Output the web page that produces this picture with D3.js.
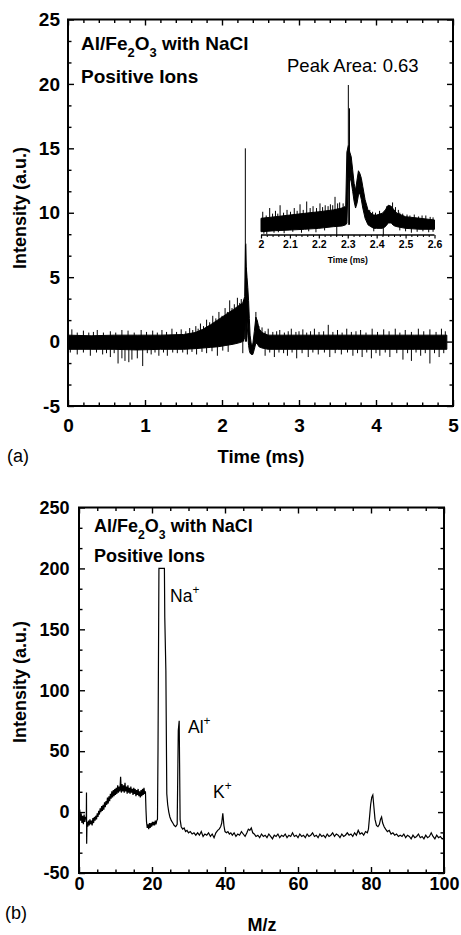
<!DOCTYPE html>
<html>
<head>
<meta charset="utf-8">
<script src="https://cdn.jsdelivr.net/npm/d3@7"></script>
<style>
  body { margin: 0; background: #fff; }
  svg { display: block; font-family: "Liberation Sans", Arial, sans-serif; }
</style>
</head>
<body>
<script>
const timeMain = [0, 0.3, 0.6, 0.9, 1.2, 1.5, 1.65, 1.75, 1.85, 1.95, 2.05, 2.15, 2.22, 2.27,
  2.295, 2.305, 2.315, 2.325, 2.335, 2.345, 2.355, 2.365, 2.38, 2.40, 2.42, 2.44, 2.46, 2.48,
  2.52, 2.6, 3.0, 3.5, 4.0, 4.5, 4.92];
const hiMain = [0.5, 0.45, 0.5, 0.5, 0.5, 0.55, 0.7, 0.95, 1.3, 1.7, 2.1, 2.5, 2.8, 3.0,
  3.5, 7.5, 5.8, 5.0, 4.2, 3.2, 1.8, 0.5, -0.2, -0.2, 0.8, 1.9, 1.6, 1.0,
  0.7, 0.5, 0.5, 0.5, 0.5, 0.5, 0.5];
const loMain = [-0.6, -0.6, -0.6, -0.65, -0.6, -0.6, -0.55, -0.5, -0.45, -0.4, -0.3, -0.2, -0.1, 0.0,
  0.3, 2.0, 2.5, 1.5, 0.5, -0.3, -0.7, -0.9, -1.0, -1.0, -0.6, -0.1, -0.2, -0.4,
  -0.5, -0.6, -0.6, -0.6, -0.6, -0.6, -0.6];
const spikesMain = [[0.05,0.95],[0.12,0.7],[0.2,0.85],[0.27,0.7],[0.33,0.75],[0.38,0.9],[0.46,0.7],
  [0.55,0.8],[0.62,0.7],[0.7,0.9],[0.78,0.85],[0.86,0.7],[0.95,0.9],[1.02,0.75],[1.1,0.85],
  [1.16,0.7],[1.22,0.9],[1.28,0.75],[1.35,1.0],[1.41,0.75],[1.47,0.95],[1.53,0.8],[1.58,1.05],
  [1.62,0.9],[1.66,1.2],[1.69,1.0],[1.72,1.4],[1.76,1.2],[1.8,1.7],[1.84,1.5],[1.88,2.0],
  [1.92,1.8],[1.96,2.3],[2.0,2.0],[2.04,2.6],[2.07,2.3],[2.1,3.2],[2.13,2.6],[2.16,2.9],
  [2.2,3.4],[2.23,3.0],[2.25,3.3],[2.28,3.2],
  [2.303,15.0],[2.31,7.6],[2.318,5.7],[2.44,2.3],[2.48,1.2],[2.52,1.1],[2.56,0.8],[2.6,1.0],
  [2.66,0.75],[2.71,0.8],[2.75,0.9],[2.81,0.7],[2.86,0.8],[2.9,1.0],[2.96,0.75],[3.0,0.8],
  [3.05,0.95],[3.1,0.7],[3.15,0.8],[3.2,1.0],[3.26,0.75],[3.32,0.8],[3.38,1.3],[3.44,0.75],
  [3.5,0.9],[3.56,0.7],[3.62,1.0],[3.68,0.75],[3.74,0.8],[3.8,0.9],[3.87,0.7],[3.95,1.0],
  [4.02,0.75],[4.1,0.95],[4.17,0.8],[4.25,1.0],[4.31,0.7],[4.38,0.9],[4.46,0.75],[4.55,1.0],
  [4.62,0.8],[4.7,0.95],[4.78,0.75],[4.85,1.0],[4.9,0.8],
  [0.03,-0.85],[0.12,-1.0],[0.2,-0.85],[0.29,-1.1],[0.37,-0.85],[0.45,-1.0],[0.5,-0.9],
  [0.55,-1.2],[0.6,-0.9],[0.65,-1.7],[0.7,-1.3],[0.74,-1.5],[0.79,-1.6],[0.83,-1.4],[0.9,-1.3],
  [0.97,-1.9],[1.03,-0.9],[1.08,-1.0],[1.13,-0.85],[1.18,-1.1],[1.24,-0.85],[1.29,-1.1],
  [1.36,-0.85],[1.42,-0.9],[1.49,-0.85],[1.55,-1.0],[1.61,-0.8],[1.67,-1.0],[1.74,-0.8],
  [1.8,-0.9],[1.87,-0.75],[1.94,-1.1],[2.01,-0.7],[2.08,-0.8],[2.27,-0.9],[2.56,-1.1],
  [2.62,-0.85],[2.68,-1.2],[2.74,-0.85],[2.8,-0.9],[2.85,-1.1],[2.91,-0.85],[2.97,-1.3],
  [3.04,-0.9],[3.12,-1.2],[3.18,-0.85],[3.25,-1.0],[3.33,-0.85],[3.4,-1.2],[3.47,-0.9],
  [3.55,-1.0],[3.63,-0.85],[3.7,-1.1],[3.76,-0.9],[3.82,-1.2],[3.88,-0.85],[3.94,-1.3],
  [4.0,-0.9],[4.05,-1.1],[4.12,-0.85],[4.18,-1.2],[4.27,-0.9],[4.35,-1.4],[4.41,-0.9],
  [4.46,-1.5],[4.52,-0.85],[4.58,-1.1],[4.64,-0.9],[4.7,-1.7],[4.76,-0.9],[4.82,-1.2],[4.88,-0.9]];

// inset: 2.0 - 2.6 ms, its own (unlabelled) intensity scale
const timeInset = [2.0, 2.05, 2.10, 2.15, 2.20, 2.25, 2.28, 2.293, 2.297, 2.302, 2.307, 2.312,
  2.317, 2.322, 2.327, 2.332, 2.337, 2.342, 2.347, 2.352, 2.36, 2.37, 2.38, 2.39, 2.40,
  2.42, 2.43, 2.44, 2.45, 2.46, 2.47, 2.50, 2.55, 2.60];
const hiInset = [0.7, 0.87, 1.05, 1.23, 1.4, 1.6, 1.8, 2.0, 7.8, 8.5, 7.8, 7.3,
  5.9, 4.45, 3.7, 4.8, 5.8, 5.5, 5.0, 4.1, 2.7, 1.6, 1.25, 1.05, 1.05,
  1.25, 1.6, 2.1, 2.0, 1.6, 1.25, 0.87, 0.7, 0.52];
const loInset = [-0.74, -0.63, -0.56, -0.48, -0.38, -0.2, -0.13, 0.0, 0.2, 5.0, 5.2, 4.6,
  3.6, 2.5, 1.8, 2.3, 3.2, 3.4, 2.7, 1.8, 0.7, 0.0, -0.2, -0.38, -0.38,
  -0.38, -0.2, 0.2, 0.2, -0.1, -0.2, -0.38, -0.48, -0.48];
const spikesInset = [[2.006,1.4],[2.018,1.0],[2.03,1.8],[2.04,1.2],[2.05,1.5],[2.058,1.2],
  [2.066,2.1],[2.078,1.3],[2.09,1.6],[2.102,1.4],[2.115,1.8],[2.125,1.5],[2.135,2.2],
  [2.146,1.6],[2.158,2.5],[2.17,1.8],[2.18,2.0],[2.192,1.8],[2.204,2.3],[2.213,1.9],
  [2.222,2.1],[2.232,2.0],[2.24,2.2],[2.248,2.1],[2.256,3.0],[2.265,2.3],[2.272,2.4],[2.284,2.3],
  [2.302,15.0],[2.306,12.5],[2.376,1.6],[2.386,1.4],[2.396,1.3],[2.41,1.5],[2.435,2.0],
  [2.455,2.4],[2.465,1.9],[2.475,1.6],[2.48,1.3],[2.49,1.2],[2.505,1.1],[2.515,1.0],[2.53,1.1],
  [2.545,0.9],[2.557,1.0],[2.57,1.0],[2.585,0.85],[2.595,0.8],
  [2.01,-0.95],[2.02,-1.0],[2.045,-0.85],[2.06,-0.8],[2.08,-0.9],[2.11,-0.75],[2.14,-0.85],
  [2.165,-0.7],[2.19,-0.8],[2.22,-0.6],[2.262,-1.2],[2.39,-0.7],[2.423,-1.15],[2.48,-0.6],
  [2.5,-0.7],[2.52,-0.85],[2.54,-0.75],[2.56,-0.7],[2.58,-0.8],[2.595,-0.75]];

// ---- panel (b): mass spectrum [m/z, intensity] ----
const spectrumB = [[0,-4],[0.2,2],[0.4,-7],[0.6,-1],[0.8,-9],[1.0,-3],[1.2,-10],[1.4,-2],[1.6,-8],
  [1.8,-4],[2.0,-6],[2.05,16],[2.1,-26],[2.2,-8],[2.4,-12],[2.6,-7],[2.8,-11],[3.0,-6],[3.2,-10],
  [3.4,-7],[3.6,-11],[3.8,-5],[4.0,-9],[4.2,-4],[4.4,-7],[4.6,-3],[4.8,-6],[5.0,-1],[5.2,-4],
  [5.4,1],[5.6,-2],[5.8,3],[6.0,0],[6.2,5],[6.4,1],[6.6,6],[6.8,2],[7.0,8],[7.2,4],[7.4,9],
  [7.6,6],[7.8,12],[8.0,7],[8.2,13],[8.4,9],[8.6,15],[8.8,11],[9.0,17],[9.2,12],[9.4,18],
  [9.6,13],[9.8,19],[10.0,14],[10.2,20],[10.4,15],[10.6,22],[10.8,16],[11.0,21],[11.2,17],
  [11.4,29],[11.6,16],[11.8,23],[12.0,17],[12.2,22],[12.4,16],[12.6,24],[12.8,17],[13.0,21],
  [13.2,15],[13.4,22],[13.6,16],[13.8,20],[14.0,15],[14.2,21],[14.4,16],[14.6,19],[14.8,14],
  [15.0,20],[15.2,15],[15.4,19],[15.6,13],[15.8,18],[16.0,14],[16.2,19],[16.4,13],[16.6,17],
  [16.8,12],[17.0,18],[17.2,13],[17.4,19],[17.6,14],[17.8,20],[18.0,15],[18.2,17],[18.35,2],
  [18.5,-8],[18.7,-13],[18.9,-10],[19.1,-14],[19.3,-9],[19.5,-13],[19.7,-9],[19.9,-12],
  [20.1,-8],[20.3,-11],[20.5,-8],[20.7,-11],[20.9,-7],[21.1,-10],[21.3,-7],[21.5,-6],
  [21.65,53],[21.9,200],[23.4,200],[23.5,160],[23.8,116],[24.05,15],[24.3,6],
  [24.6,0],[24.9,-4],[25.3,-7],[25.7,-9],[26.1,-11],[26.5,-12],[26.9,-10],[27.2,67],[27.45,75],
  [27.7,-6],[28.0,-12],[28.4,-14],[28.8,-13],[29.2,-16],[29.6,-15],[30.0,-17],[30.5,-16],[31.0,-18],
  [31.5,-17],[32.0,-19],[32.5,-17],[33.0,-19],[33.5,-16],[34.0,-20],[34.5,-18],[35.0,-19],
  [35.5,-17],[36.0,-20],[36.5,-18],[37.0,-21],[37.5,-17],[38.0,-15],[38.4,-14],[38.8,-12],
  [39.1,-9],[39.4,-1],[39.7,-11],[40.0,-16],[40.4,-17],[40.8,-16],[41.2,-18],[41.6,-17],[42.0,-19],
  [42.5,-17],[43.0,-20],[43.5,-18],[44.0,-19],[44.5,-16],[45.0,-18],[45.5,-20],[46.0,-17],
  [46.4,-14],[46.8,-15],[47.2,-13],[47.6,-17],[48.0,-18],[48.5,-20],[49.0,-19],[49.5,-21],
  [50.0,-18],[50.5,-20],[51.0,-19],[51.5,-21],[52.0,-18],[52.5,-20],[53.0,-22],[53.5,-19],
  [54.0,-20],[54.5,-18],[55.0,-21],[55.5,-19],[56.0,-20],[56.5,-18],[57.0,-21],[57.5,-19],
  [58.0,-20],[58.5,-17],[59.0,-20],[59.5,-19],[60.0,-21],[60.5,-18],[61.0,-20],[61.5,-19],
  [62.0,-21],[62.5,-18],[63.0,-20],[63.5,-19],[64.0,-17],[64.5,-20],[65.0,-19],[65.5,-21],
  [66.0,-18],[66.5,-20],[67.0,-19],[67.5,-21],[68.0,-18],[68.5,-20],[69.0,-19],[69.5,-17],
  [70.0,-20],[70.5,-18],[71.0,-19],[71.5,-21],[72.0,-18],[72.5,-20],[73.0,-19],[73.5,-17],
  [74.0,-19],[74.5,-18],[75.0,-20],[75.5,-17],[76.0,-19],[76.5,-15],[77.0,-18],[77.5,-17],
  [78.0,-19],[78.5,-16],[79.0,-17],[79.3,-14],[79.6,-4],[79.9,6],[80.2,12],[80.5,14],[80.8,4],
  [81.1,-6],[81.5,-11],[81.9,-12],[82.3,-10],[82.6,-6],[82.9,-4],[83.2,-9],[83.6,-12],[84.0,-14],
  [84.5,-16],[85.0,-15],[85.5,-18],[86.0,-17],[86.5,-19],[87.0,-18],[87.5,-20],[88.0,-19],
  [88.5,-20],[89.0,-18],[89.5,-21],[90.0,-19],[90.5,-20],[91.0,-22],[91.5,-19],[92.0,-21],
  [92.5,-20],[93.0,-18],[93.5,-21],[94.0,-20],[94.5,-22],[95.0,-19],[95.5,-21],[96.0,-20],
  [96.5,-17],[97.0,-20],[97.5,-22],[98.0,-19],[98.5,-21],[99.0,-20],[99.5,-22],[100.0,-21]];

// tick values
const ticksTime = [0, 1, 2, 3, 4, 5];
const ticksIntA = [-5, 0, 5, 10, 15, 20, 25];
const ticksInset = [2, 2.1, 2.2, 2.3, 2.4, 2.5, 2.6];
const ticksMz = [0, 20, 40, 60, 80, 100];
const ticksIntB = [-50, 0, 50, 100, 150, 200, 250];

const svg = d3.select("body")
  .append("svg")
    .attr("width", 461)
    .attr("height", 935);

// scales
const xA = d3.scaleLinear().domain([0, 5]).range([68, 453]);
const yA = d3.scaleLinear().domain([-5, 25]).range([406, 19.5]);
const xIn = d3.scaleLinear().domain([2, 2.6]).range([261, 434.5]);
const yIn = d3.scaleLinear().domain([-1.2, 15]).range([236, 85]);
const xB = d3.scaleLinear().domain([0, 100]).range([79, 444]);
const yB = d3.scaleLinear().domain([-50, 250]).range([873, 507.5]);

// minor tick positions (every 0.2 ms, 5/3 a.u., 5 m/z, 50/3 a.u.)
const minor = (lo, hi, step, major) =>
  d3.range(0, Math.round((hi - lo) / step) + 1)
    .map(i => +(lo + i * step).toFixed(4))
    .filter(v => !major.some(m => Math.abs(m - v) < 1e-6));

function drawFrame(x, y, xMajor, xMinor, yMajor, yMinor, fs, xPad, yPad) {
  const [x0, x1] = x.range();
  const [y0, y1] = y.range();
  const g = svg.append("g");
  const add = (axis, tx, ty) => {
    const a = g.append("g").attr("transform", `translate(${tx},${ty})`).call(axis);
    a.select(".domain").remove();
    a.selectAll("line").attr("stroke", "#000").attr("stroke-width", 1.4);
    a.selectAll("text")
      .attr("font-size", fs)
      .attr("font-weight", "bold")
      .attr("fill", "#000")
      .attr("font-family", "Liberation Sans, Arial, sans-serif");
  };
  add(d3.axisBottom(x).tickValues(xMajor).tickSize(-6).tickPadding(xPad).tickFormat(d => d), 0, y0);
  add(d3.axisBottom(x).tickValues(xMinor).tickSize(-3.5).tickFormat(""), 0, y0);
  add(d3.axisTop(x).tickValues(xMajor).tickSize(-6).tickFormat(""), 0, y1);
  add(d3.axisTop(x).tickValues(xMinor).tickSize(-3.5).tickFormat(""), 0, y1);
  add(d3.axisLeft(y).tickValues(yMajor).tickSize(-6).tickPadding(yPad).tickFormat(d => d), x0, 0);
  add(d3.axisLeft(y).tickValues(yMinor).tickSize(-3.5).tickFormat(""), x0, 0);
  add(d3.axisRight(y).tickValues(yMajor).tickSize(-6).tickFormat(""), x1, 0);
  add(d3.axisRight(y).tickValues(yMinor).tickSize(-3.5).tickFormat(""), x1, 0);
  g.append("rect")
    .attr("x", x0).attr("y", y1)
    .attr("width", x1 - x0).attr("height", y0 - y1)
    .attr("fill", "none").attr("stroke", "#000").attr("stroke-width", 2);
}

// noisy trace = filled envelope plus individual spikes
function drawTrace(x, y, times, hi, lo, spikes, sw) {
  const band = times.map((t, i) => ({ t, hi: hi[i], lo: lo[i] }));
  svg.append("path")
    .datum(band)
    .attr("d", d3.area().x(d => x(d.t)).y0(d => y(d.lo)).y1(d => y(d.hi)))
    .attr("fill", "#000").attr("stroke", "#000").attr("stroke-width", sw);
  svg.append("g").selectAll("line")
    .data(spikes)
    .join("line")
      .attr("x1", d => x(d[0])).attr("x2", d => x(d[0]))
      .attr("y1", y(0)).attr("y2", d => y(d[1]))
      .attr("stroke", "#000").attr("stroke-width", 1);
}

// annotation with sub/superscripts: parts = [[text, shift]]
function label(x, y, parts, fs, weight) {
  const t = svg.append("text")
    .attr("x", x).attr("y", y)
    .attr("font-size", fs).attr("font-weight", weight).attr("fill", "#000");
  let prev = 0;
  parts.forEach(([s, shift]) => {
    t.append("tspan")
      .attr("dy", shift - prev)
      .attr("font-size", shift === 0 ? fs : fs * 0.68)
      .text(s);
    prev = shift;
  });
  return t;
}

// ---------- panel (a) ----------
drawTrace(xA, yA, timeMain, hiMain, loMain, spikesMain, 1);
drawFrame(xA, yA, ticksTime, minor(0, 5, 0.2, ticksTime),
  ticksIntA, minor(-5, 25, 5 / 3, ticksIntA), 19, 12.5, 8);

// inset
drawTrace(xIn, yIn, timeInset, hiInset, loInset, spikesInset, 1);
const inAx = svg.append("g")
  .attr("transform", "translate(0,235)")
  .call(d3.axisBottom(xIn).tickValues(ticksInset).tickSize(3.5).tickPadding(2).tickFormat(d => d));
inAx.select(".domain").attr("stroke-width", 1.5).attr("d", `M${xIn(2)},0H${xIn(2.6)}`);
inAx.selectAll("line").attr("stroke-width", 1.2);
inAx.selectAll("text").attr("font-size", 10.5).attr("font-weight", "bold");
svg.append("g")
  .attr("transform", "translate(0,235)")
  .call(d3.axisBottom(xIn).tickValues(minor(2, 2.6, 0.02, ticksInset)).tickSize(2).tickFormat(""))
  .call(g => g.select(".domain").remove());
svg.append("text")
  .attr("x", xIn(2.3)).attr("y", 262.5)
  .attr("text-anchor", "middle")
  .attr("font-size", 8.5).attr("font-weight", "bold")
  .text("Time (ms)");

label(81, 50, [["Al/Fe", 0], ["2", 7], ["O", 0], ["3", 7], [" with NaCl", 0]], 19, "bold");
label(81, 83, [["Positive Ions", 0]], 19, "bold");
label(287, 72, [["Peak Area: 0.63", 0]], 18.5, "normal");

svg.append("text")
  .attr("transform", "translate(20,208) rotate(-90)")
  .attr("text-anchor", "middle").attr("dy", "0.35em")
  .attr("font-size", 18).attr("font-weight", "bold")
  .text("Intensity (a.u.)");
svg.append("text")
  .attr("x", 261).attr("y", 463)
  .attr("text-anchor", "middle")
  .attr("font-size", 18.5).attr("font-weight", "bold")
  .text("Time (ms)");
svg.append("text")
  .attr("x", 7).attr("y", 462)
  .attr("font-size", 18)
  .text("(a)");

// ---------- panel (b) ----------
svg.append("path")
  .datum(spectrumB)
  .attr("d", d3.line().x(d => xB(d[0])).y(d => yB(d[1])))
  .attr("fill", "none").attr("stroke", "#000").attr("stroke-width", 1.2);
drawFrame(xB, yB, ticksMz, minor(0, 100, 5, ticksMz),
  ticksIntB, minor(-50, 250, 50 / 3, ticksIntB), 18, 4.5, 9.5);

label(94, 532, [["Al/Fe", 0], ["2", 7], ["O", 0], ["3", 7], [" with NaCl", 0]], 18, "bold");
label(94, 562, [["Positive Ions", 0]], 18, "bold");
label(170, 602, [["Na", 0], ["+", -8]], 17.5, "normal");
label(188, 733, [["Al", 0], ["+", -8]], 17.5, "normal");
label(213, 798, [["K", 0], ["+", -8]], 17.5, "normal");

svg.append("text")
  .attr("transform", "translate(20,682) rotate(-90)")
  .attr("text-anchor", "middle").attr("dy", "0.35em")
  .attr("font-size", 18).attr("font-weight", "bold")
  .text("Intensity (a.u.)");
svg.append("text")
  .attr("x", 262).attr("y", 931)
  .attr("text-anchor", "middle")
  .attr("font-size", 18).attr("font-weight", "bold")
  .text("M/z");
svg.append("text")
  .attr("x", 5).attr("y", 919)
  .attr("font-size", 18)
  .text("(b)");
</script>
</body>
</html>
